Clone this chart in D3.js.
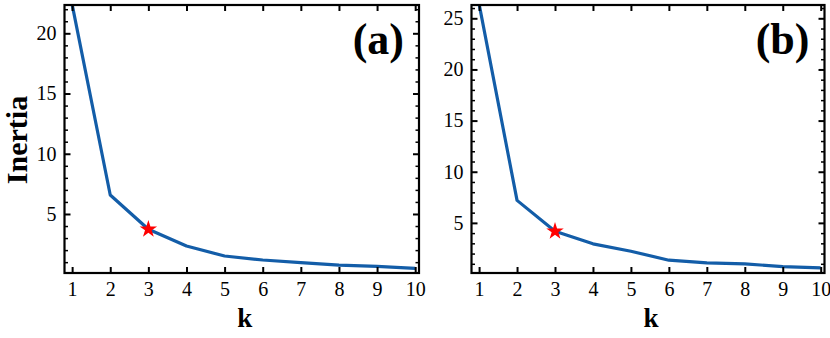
<!DOCTYPE html>
<html>
<head>
<meta charset="utf-8">
<script src="https://cdn.jsdelivr.net/npm/d3@7"></script>
<style>
  html, body { margin: 0; padding: 0; background: #fff; }
  svg { display: block; }
</style>
</head>
<body>
<svg id="chart" width="830" height="338" font-family="Liberation Serif"></svg>
<script>
// ---- data ----
const kValues = [1, 2, 3, 4, 5, 6, 7, 8, 9, 10];
const inertiaA = [22.4, 6.58, 3.73, 2.34, 1.51, 1.18, 0.96, 0.76, 0.65, 0.49];
const inertiaB = [26.4, 7.2, 4.18, 2.95, 2.23, 1.35, 1.09, 0.99, 0.73, 0.6];
const xTicks = [1, 2, 3, 4, 5, 6, 7, 8, 9, 10];
const yTicksA = [5, 10, 15, 20];
const yTicksB = [5, 10, 15, 20, 25];
const yMinorA = d3.range(1, 23);
const yMinorB = d3.range(1, 27);
const elbowK = 3;
const panelLabels = ["(a)", "(b)"];
const xLabel = "k";
const yLabel = "Inertia";

// ---- layout ----
const FONT = "Liberation Serif";
const svg = d3.select("#chart");
const plotTop = 5, plotBottom = 273;
const panels = [
  { left: 64.5, right: 419, values: inertiaA, yMax: 22.35, yTicks: yTicksA, yMinor: yMinorA, label: panelLabels[0], ylabel: true },
  { left: 471.5, right: 824.5, values: inertiaB, yMax: 26.3, yTicks: yTicksB, yMinor: yMinorB, label: panelLabels[1], ylabel: false }
];
const lineColor = "#135da8";

panels.forEach((p, i) => {
  const x = d3.scaleLinear().domain([0.8, 10.1]).range([p.left, p.right]);
  const y = d3.scaleLinear().domain([0.1, p.yMax]).range([plotBottom, plotTop]);
  const g = svg.append("g");

  const clipId = "clip" + i;
  svg.append("clipPath").attr("id", clipId)
    .append("rect").attr("x", p.left).attr("y", plotTop).attr("width", p.right - p.left).attr("height", plotBottom - plotTop);

  // data line
  const line = d3.line().x((d, j) => x(kValues[j])).y(d => y(d));
  g.append("path").datum(p.values)
    .attr("clip-path", `url(#${clipId})`)
    .attr("d", line)
    .attr("fill", "none")
    .attr("stroke", lineColor)
    .attr("stroke-width", 3.2)
    .attr("stroke-linejoin", "round");

  // elbow star
  const ei = kValues.indexOf(elbowK);
  g.append("path")
    .attr("d", d3.symbol().type(d3.symbolStar).size(95)())
    .attr("transform", `translate(${x(kValues[ei])},${y(p.values[ei])})`)
    .attr("fill", "#ff0000");

  // axes (ticks inward)
  const yMinorOnly = p.yMinor.filter(v => !p.yTicks.includes(v) && v <= p.yMax);
  const axB = d3.axisBottom(x).tickValues(xTicks).tickSizeInner(-6).tickSizeOuter(0).tickPadding(9).tickFormat(d3.format("d"));
  const axT = d3.axisTop(x).tickValues(xTicks).tickSizeInner(-6).tickSizeOuter(0).tickFormat("");
  const axL = d3.axisLeft(y).tickValues(p.yTicks).tickSizeInner(-6).tickSizeOuter(0).tickPadding(8).tickFormat(d3.format("d"));
  const axR = d3.axisRight(y).tickValues(p.yTicks).tickSizeInner(-6).tickSizeOuter(0).tickFormat("");
  const axLm = d3.axisLeft(y).tickValues(yMinorOnly).tickSizeInner(-3.5).tickSizeOuter(0).tickFormat("");
  const axRm = d3.axisRight(y).tickValues(yMinorOnly).tickSizeInner(-3.5).tickSizeOuter(0).tickFormat("");

  const styleAxis = (sel, w) => {
    sel.attr("font-family", FONT).attr("font-size", 20);
    sel.select(".domain").remove();
    sel.selectAll(".tick line").attr("stroke", "#000").attr("stroke-width", w);
    sel.selectAll(".tick text").attr("font-size", 20).attr("font-family", FONT).attr("fill", "#000");
  };
  styleAxis(g.append("g").attr("transform", `translate(0,${plotBottom})`).call(axB), 2);
  styleAxis(g.append("g").attr("transform", `translate(0,${plotTop})`).call(axT), 2);
  styleAxis(g.append("g").attr("transform", `translate(${p.left},0)`).call(axL), 2);
  styleAxis(g.append("g").attr("transform", `translate(${p.right},0)`).call(axR), 2);
  styleAxis(g.append("g").attr("transform", `translate(${p.left},0)`).call(axLm), 1.5);
  styleAxis(g.append("g").attr("transform", `translate(${p.right},0)`).call(axRm), 1.5);

  // frame
  g.append("rect")
    .attr("x", p.left).attr("y", plotTop)
    .attr("width", p.right - p.left).attr("height", plotBottom - plotTop)
    .attr("fill", "none").attr("stroke", "#000").attr("stroke-width", 2.2);

  // panel label
  g.append("text")
    .attr("x", p.right - 15).attr("y", 54)
    .attr("text-anchor", "end")
    .attr("font-family", FONT)
    .attr("font-size", 44).attr("font-weight", "bold")
    .text(p.label);

  // x label
  g.append("text")
    .attr("x", (p.left + p.right) / 2 + 3).attr("y", 326.5)
    .attr("text-anchor", "middle")
    .attr("font-family", FONT)
    .attr("font-size", 27).attr("font-weight", "bold")
    .text(xLabel);

  if (p.ylabel) {
    g.append("text")
      .attr("transform", `translate(27,${(plotTop + plotBottom) / 2 + 1}) rotate(-90)`)
      .attr("text-anchor", "middle")
      .attr("font-family", FONT)
      .attr("font-size", 30).attr("font-weight", "bold")
      .text(yLabel);
  }
});
</script>
</body>
</html>
